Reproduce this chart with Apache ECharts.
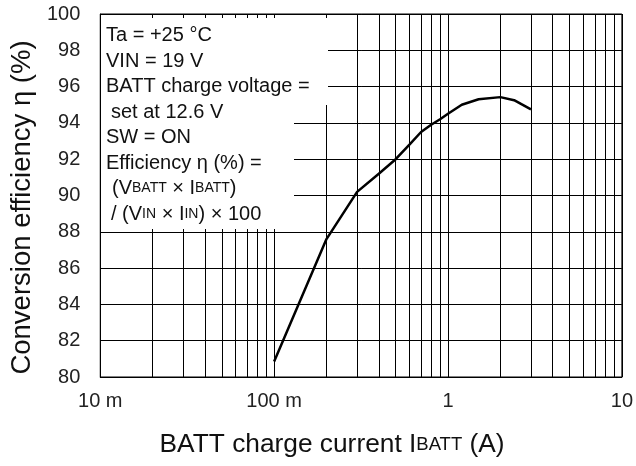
<!DOCTYPE html>
<html>
<head>
<meta charset="utf-8">
<script src="https://cdn.jsdelivr.net/npm/echarts@6/dist/echarts.min.js"></script>
<style>
html,body{margin:0;padding:0;background:#fff;}
#chart{width:636px;height:466px;}
</style>
</head>
<body>
<div id="chart"></div>
<script>
// ---- data ----
var currentA = [0.1, 0.2, 0.3, 0.4, 0.5, 0.6, 0.7, 0.8, 0.9, 1.0, 1.2, 1.5, 2.0, 2.4, 3.0];
var efficiency = [80.85, 87.6, 90.2, 91.2, 92.0, 92.8, 93.5, 93.9, 94.2, 94.5, 95.0, 95.3, 95.42, 95.25, 94.75];
var xTickValues = [0.01, 0.1, 1, 10];
var xTickLabels = ['10 m', '100 m', '1', '10'];
var minorGridValues = [0.02,0.03,0.04,0.05,0.06,0.07,0.08,0.09,
                       0.2,0.3,0.4,0.5,0.6,0.7,0.8,0.9,
                       2,3,4,5,6,7,8,9];
var noteLines = [
  {t: 'Ta = +25 °C', indent: 0},
  {t: 'VIN = 19 V', indent: 0},
  {t: 'BATT charge voltage =', indent: 0},
  {t: 'set at 12.6 V', indent: 5},
  {t: 'SW = ON', indent: 0},
  {t: 'Efficiency η (%) =', indent: 0},
  {t: '(V{s|BATT} × I{s|BATT})', indent: 6},
  {t: '/ (V{s|IN} × I{s|IN}) × 100', indent: 5}
];

var FONT = "'Liberation Sans', Arial, Helvetica, sans-serif";
var chart = echarts.init(document.getElementById('chart'), null, {renderer: 'canvas'});

var seriesData = currentA.map(function (c, i) { return [c, efficiency[i]]; });

var graphics = [
  {type: 'rect', z: 100, shape: {x: 101, y: 18, width: 227, height: 87}, style: {fill: '#fff'}, silent: true},
  {type: 'rect', z: 100, shape: {x: 101, y: 18, width: 193, height: 211}, style: {fill: '#fff'}, silent: true}
];
noteLines.forEach(function (ln, i) {
  graphics.push({
    type: 'text', z: 101, silent: true,
    x: 106 + ln.indent, y: 42 + i * 25.5 - 6.5,
    style: {
      text: ln.t, fontSize: 20, fontFamily: FONT, fill: '#111',
      align: 'left', verticalAlign: 'middle',
      rich: { s: { fontSize: 14, fontFamily: FONT, fill: '#111' } }
    }
  });
});

chart.setOption({
  animation: false,
  backgroundColor: '#fff',
  grid: {left: 96, right: 14, top: 14, bottom: 89, show: true, borderColor: '#000', borderWidth: 1},
  xAxis: {
    type: 'log', logBase: 10, min: 0.01, max: 10,
    axisLine: {show: true, lineStyle: {color: '#000', width: 1}},
    axisTick: {show: false},
    splitLine: {show: true, lineStyle: {color: '#000', width: 1}},
    axisLabel: {
      fontSize: 20, fontFamily: FONT, color: '#222', margin: 14,
      formatter: function (v) {
        for (var i = 0; i < xTickValues.length; i++) {
          if (Math.abs(Math.log10(v) - Math.log10(xTickValues[i])) < 1e-6) return xTickLabels[i];
        }
        return '';
      }
    },
    name: 'BATT charge current I{s|BATT} (A)',
    nameLocation: 'middle', nameGap: 55,
    nameTextStyle: {
      fontSize: 26.3, fontFamily: FONT, color: '#111', padding: [0, 58, 0, 0],
      rich: { s: { fontSize: 18.5, fontFamily: FONT, color: '#111' } }
    }
  },
  yAxis: {
    type: 'value', min: 80, max: 100, interval: 2,
    axisLine: {show: true, lineStyle: {color: '#000', width: 1}},
    axisTick: {show: false},
    splitLine: {show: true, lineStyle: {color: '#000', width: 1}},
    axisLabel: {fontSize: 20, fontFamily: FONT, color: '#222', margin: 20},
    name: '{t|Conversion efficiency η (%)}{p|}',
    nameLocation: 'middle', nameGap: 62,
    nameTextStyle: {
      fontSize: 27.5, fontFamily: FONT, color: '#111',
      rich: {
        t: {fontSize: 27.5, fontFamily: FONT, color: '#111'},
        p: {width: 24, fontSize: 27.5}
      }
    }
  },
  series: [{
    type: 'line',
    data: seriesData,
    showSymbol: false, symbol: 'none',
    lineStyle: {color: '#000', width: 2.5},
    z: 3,
    markLine: {
      silent: true, symbol: 'none', animation: false,
      label: {show: false},
      lineStyle: {color: '#000', width: 1, type: 'solid'},
      emphasis: {disabled: true},
      data: minorGridValues.map(function (v) { return {xAxis: v}; })
    }
  }],
  graphic: graphics
});
</script>
</body>
</html>
